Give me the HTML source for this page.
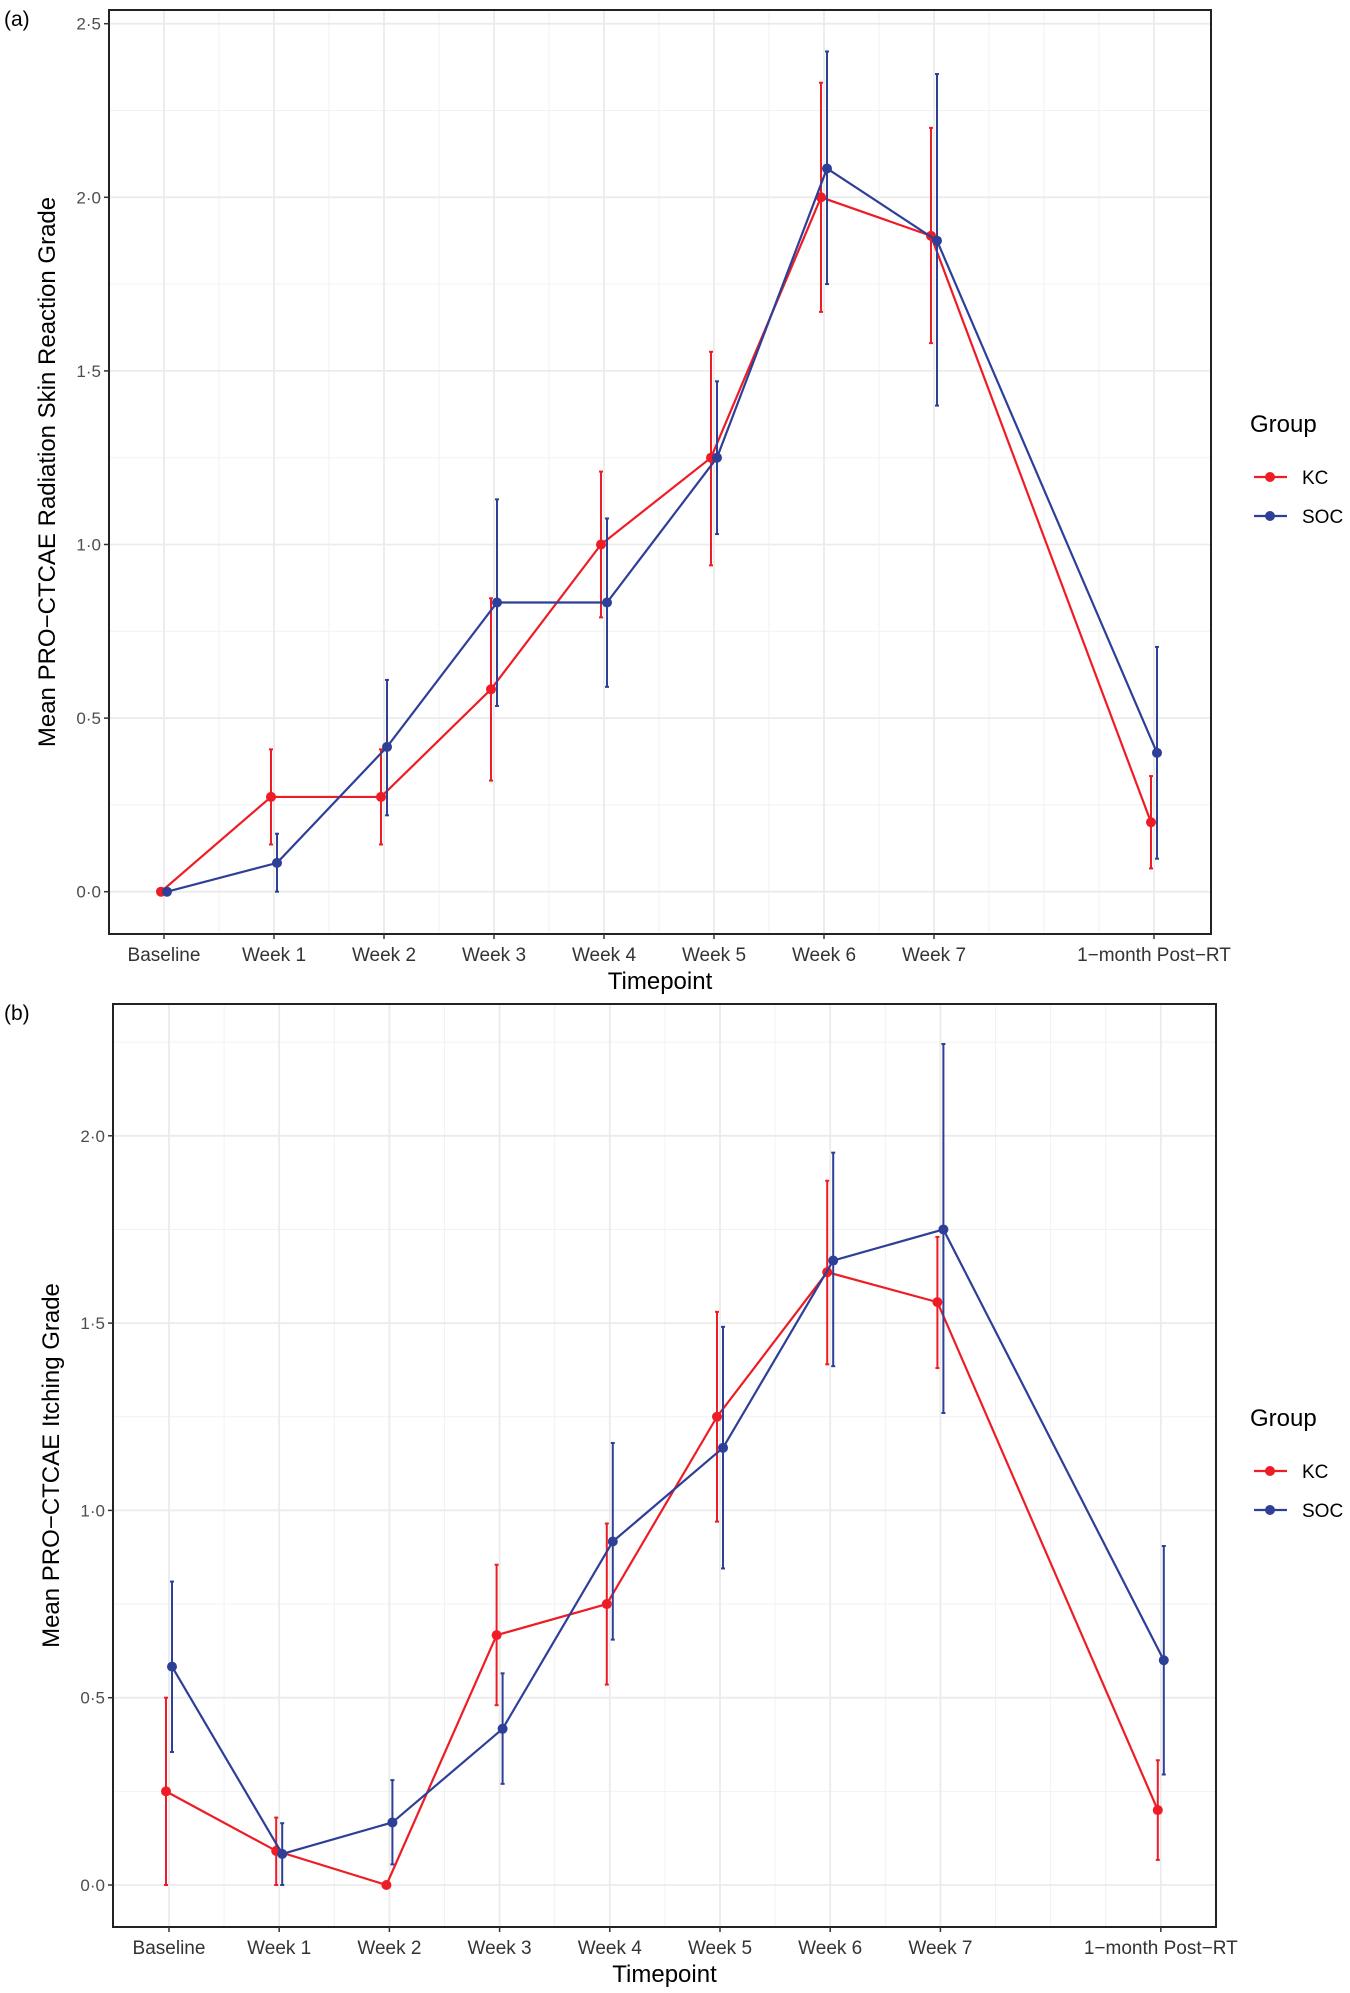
<!DOCTYPE html>
<html><head><meta charset="utf-8"><style>
body{margin:0;background:#fff;}
svg text{font-family:"Liberation Sans",sans-serif;}
</style></head><body>
<svg id="s" width="1350" height="1988" xmlns="http://www.w3.org/2000/svg"></svg>
<script>
const categories=["Baseline","Week 1","Week 2","Week 3","Week 4","Week 5","Week 6","Week 7","1\u2212month Post\u2212RT"];
const catPos=[0,1,2,3,4,5,6,7,9];
const aKC=[0,0.273,0.273,0.583,1.0,1.25,2.0,1.889,0.2];
const aKClo=[0,0.136,0.136,0.32,0.79,0.94,1.67,1.58,0.067];
const aKChi=[0,0.41,0.41,0.845,1.21,1.555,2.33,2.2,0.333];
const aSOC=[0,0.083,0.417,0.833,0.833,1.25,2.083,1.875,0.4];
const aSOClo=[0,0,0.22,0.535,0.59,1.03,1.75,1.4,0.095];
const aSOChi=[0,0.167,0.61,1.13,1.075,1.47,2.42,2.355,0.705];
const bKC=[0.25,0.091,0,0.667,0.75,1.25,1.636,1.556,0.2];
const bKClo=[0,0,0,0.48,0.535,0.97,1.39,1.38,0.067];
const bKChi=[0.5,0.18,0,0.855,0.965,1.53,1.88,1.73,0.333];
const bSOC=[0.583,0.083,0.167,0.417,0.917,1.167,1.667,1.75,0.6];
const bSOClo=[0.355,0,0.055,0.27,0.655,0.845,1.385,1.26,0.295];
const bSOChi=[0.81,0.165,0.28,0.565,1.18,1.49,1.955,2.245,0.905];
const aTicks=[0,0.5,1,1.5,2,2.5];
const bTicks=[0,0.5,1,1.5,2];
const NS="http://www.w3.org/2000/svg";
const svg=document.getElementById('s');
function mk(t,at,parent){const e=document.createElementNS(NS,t);for(const k in at)e.setAttribute(k,at[k]);(parent||svg).appendChild(e);return e;}
function panel(p){
  const g=mk('g',{});
  
  
  const X=v=>p.x0+v*p.dx, Y=v=>p.y0-v*p.dy;
  for(let v=0.5;v<9;v+=1){mk('line',{x1:X(v),x2:X(v),y1:p.top,y2:p.bot,stroke:'#f2f2f2','stroke-width':1},g);}
  mk('line',{x1:X(8),x2:X(8),y1:p.top,y2:p.bot,stroke:'#f2f2f2','stroke-width':1},g);
  p.ticks.forEach(v=>{const m=v+0.25;if(Y(m)>p.top)mk('line',{x1:p.left,x2:p.right,y1:Y(m),y2:Y(m),stroke:'#f2f2f2','stroke-width':1},g);});
  catPos.forEach(v=>mk('line',{x1:X(v),x2:X(v),y1:p.top,y2:p.bot,stroke:'#ebebeb','stroke-width':1.8},g));
  p.ticks.forEach(v=>mk('line',{x1:p.left,x2:p.right,y1:Y(v),y2:Y(v),stroke:'#ebebeb','stroke-width':1.8},g));
  const series=[[p.kc,p.kclo,p.kchi,'#ee1c25',-3,'kc'],[p.soc,p.soclo,p.sochi,'#2e3f98',3,'soc']];
  series.forEach(([m,lo,hi,c,off,nm])=>{
    const pts=m.map((v,i)=>(X(catPos[i])+off)+','+Y(v)).join(' ');
    const pl=mk('polyline',{points:pts,fill:'none',stroke:c,'stroke-width':2.2},g);
    
    
    m.forEach((v,i)=>{
      const x=X(catPos[i])+off;
      mk('line',{x1:x,x2:x,y1:Y(lo[i]),y2:Y(hi[i]),stroke:c,'stroke-width':2},g);
      mk('line',{x1:x-2,x2:x+2,y1:Y(lo[i]),y2:Y(lo[i]),stroke:c,'stroke-width':2},g);
      mk('line',{x1:x-2,x2:x+2,y1:Y(hi[i]),y2:Y(hi[i]),stroke:c,'stroke-width':2},g);
      const pt=mk('circle',{cx:x,cy:Y(v),r:5,fill:c},g);
      
      
    });
  });
  mk('rect',{x:p.left,y:p.top,width:p.right-p.left,height:p.bot-p.top,fill:'none',stroke:'#222','stroke-width':2},g);
  p.ticks.forEach(v=>{
    mk('line',{x1:p.left-5,x2:p.left,y1:Y(v),y2:Y(v),stroke:'#333','stroke-width':1.5},g);
    const t=mk('text',{x:p.left-8,y:Y(v)+6,'text-anchor':'end','font-size':17,fill:'#4d4d4d'},g);
    t.textContent=v.toFixed(1).replace('.','\u00b7');
  });
  categories.forEach((c,i)=>{
    mk('line',{x1:X(catPos[i]),x2:X(catPos[i]),y1:p.bot,y2:p.bot+5,stroke:'#333','stroke-width':1.5},g);
    const t=mk('text',{x:X(catPos[i]),y:p.bot+27,'text-anchor':'middle','font-size':19,fill:'#333'},g);
    t.textContent=c;
  });
  const xt=mk('text',{x:(p.left+p.right)/2,y:p.bot+55,'text-anchor':'middle','font-size':24,fill:'#000'},g);
  xt.textContent='Timepoint';
  
  
  const yt=mk('text',{x:0,y:0,'text-anchor':'middle','font-size':24,fill:'#000',transform:`translate(${p.ytx},${(p.top+p.bot)/2}) rotate(-90)`},g);
  yt.textContent=p.ytitle;
  
  
  const pl=mk('text',{x:4,y:p.top+16,'font-size':21,fill:'#000'},g);
  pl.textContent=p.label;
  const lg=mk('g',{},g);
  
  
  const gt=mk('text',{x:1250,y:p.legY,'font-size':24,fill:'#000'},lg);gt.textContent='Group';
  [['KC','#ee1c25',p.legY+45],['SOC','#2e3f98',p.legY+84]].forEach(([n,c,y])=>{
    mk('line',{x1:1254,x2:1287,y1:y,y2:y,stroke:c,'stroke-width':2.2},lg);
    mk('circle',{cx:1270,cy:y,r:5,fill:c},lg);
    const t=mk('text',{x:1302,y:y+7,'font-size':19,fill:'#000'},lg);t.textContent=n;
  });
}
panel({name:'panel-a-skin-reaction',label:'(a)',left:109,right:1211,top:10,bot:934,x0:164,dx:110,y0:891.7,dy:347.2,ticks:aTicks,
  kc:aKC,kclo:aKClo,kchi:aKChi,soc:aSOC,soclo:aSOClo,sochi:aSOChi,ytitle:'Mean PRO\u2212CTCAE Radiation Skin Reaction Grade',ytx:55,legY:432});
panel({name:'panel-b-itching',label:'(b)',left:113,right:1216,top:1004,bot:1927,x0:169,dx:110.2,y0:1885,dy:374.6,ticks:bTicks,
  kc:bKC,kclo:bKClo,kchi:bKChi,soc:bSOC,soclo:bSOClo,sochi:bSOChi,ytitle:'Mean PRO\u2212CTCAE Itching Grade',ytx:59,legY:1426});
</script>
</body></html>
